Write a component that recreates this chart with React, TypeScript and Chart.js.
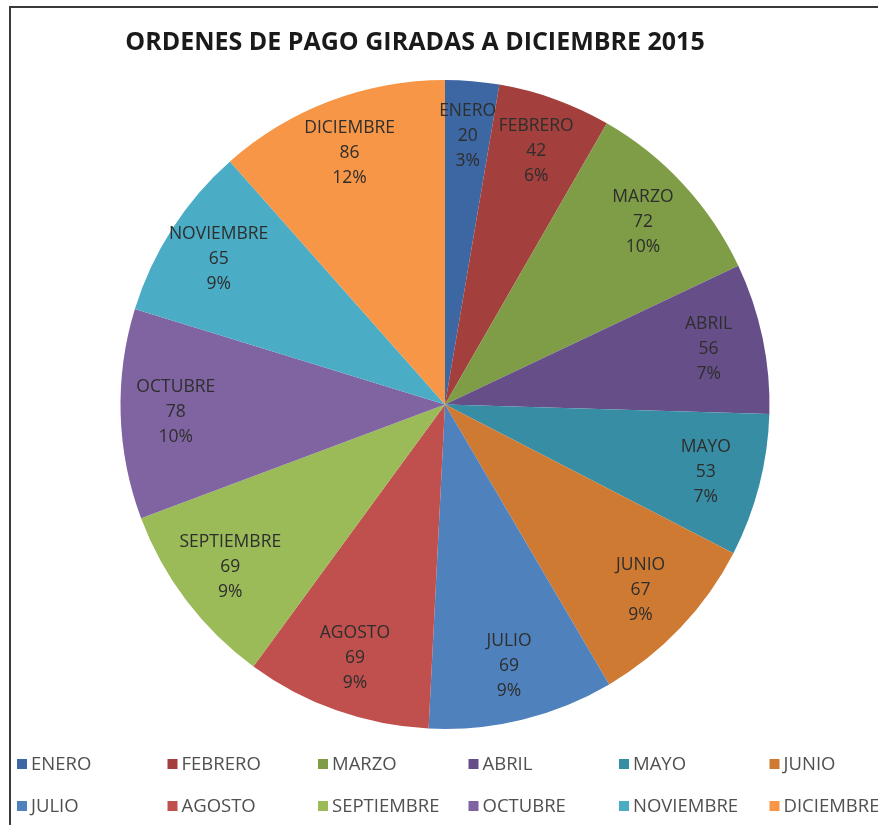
import React, { useEffect, useRef } from "react";
import { Chart, registerables } from "chart.js";

Chart.register(...registerables);

const TITLE = "ORDENES DE PAGO GIRADAS A DICIEMBRE 2015";
const MONTHS = ["ENERO", "FEBRERO", "MARZO", "ABRIL", "MAYO", "JUNIO", "JULIO", "AGOSTO", "SEPTIEMBRE", "OCTUBRE", "NOVIEMBRE", "DICIEMBRE"];
const ORDERS = [20, 42, 72, 56, 53, 67, 69, 69, 69, 78, 65, 86];
const PERCENTS = ["3%", "6%", "10%", "7%", "7%", "9%", "9%", "9%", "9%", "10%", "9%", "12%"];
const COLORS = ["#3C67A2", "#A33F3C", "#7F9C47", "#664E88", "#378DA4", "#CF7A33", "#4F81BD", "#C0504D", "#9BBB59", "#8064A2", "#4BACC6", "#F79646"];

const FONT = "'Open Sans', 'Liberation Sans', sans-serif";

const overlay = {
  id: "overlay",
  afterDraw(chart: any) {
    const ctx = chart.ctx as CanvasRenderingContext2D;
    const meta = chart.getDatasetMeta(0);
    const data = chart.data.datasets[0].data as number[];
    const labels = chart.data.labels as string[];
    ctx.save();
    // title
    ctx.fillStyle = "#1a1a1a";
    ctx.font = `bold 25px ${FONT}`;
    ctx.textAlign = "center";
    ctx.textBaseline = "middle";
    ctx.fillText(TITLE, 415, 43);
    // slice labels
    ctx.font = `17.5px ${FONT}`;
    ctx.fillStyle = "#2e2e2e";
    meta.data.forEach((arc: any, i: number) => {
      const p = arc.getProps(["x", "y", "startAngle", "endAngle", "outerRadius"], true);
      const mid = (p.startAngle + p.endAngle) / 2;
      const r = p.outerRadius * 0.83;
      const cx = p.x + Math.cos(mid) * r;
      const cy = p.y + Math.sin(mid) * r;
      ctx.fillText(labels[i], cx, cy - 25);
      ctx.fillText(String(data[i]), cx, cy);
      ctx.fillText(PERCENTS[i], cx, cy + 25);
    });
    // legend
    ctx.font = `18.5px ${FONT}`;
    ctx.textAlign = "left";
    labels.forEach((lab, i) => {
      const col = i % 6;
      const row = Math.floor(i / 6);
      const x = 17 + col * 150.5;
      const y = 764 + row * 42;
      ctx.fillStyle = COLORS[i];
      ctx.fillRect(x, y - 5, 10, 10);
      ctx.fillStyle = "#505050";
      ctx.fillText(lab, x + 14, y + 1);
    });
    ctx.restore();
  },
};

export default function App() {
  const ref = useRef<HTMLCanvasElement>(null);
  useEffect(() => {
    if (!ref.current) return;
    const chart = new Chart(ref.current, {
      type: "pie",
      data: {
        labels: MONTHS,
        datasets: [{ data: ORDERS, backgroundColor: COLORS, borderWidth: 0 }],
      },
      options: {
        animation: false,
        responsive: false,
        layout: { padding: { top: 80, bottom: 96, left: 120, right: 108 } },
        plugins: { legend: { display: false }, tooltip: { enabled: false }, title: { display: false } },
      },
      plugins: [overlay],
    });
    return () => chart.destroy();
  }, []);
  return (
    <div style={{ position: "absolute", left: 0, top: 0, width: 878, height: 825, background: "#fff" }}>
      <div style={{ position: "absolute", left: 9, top: 6, width: 880, height: 830, borderLeft: "2px solid #3a3a3a", borderTop: "2px solid #3a3a3a" }} />
      <canvas ref={ref} width={878} height={825} style={{ position: "absolute", left: 0, top: 0 }} />
    </div>
  );
}
